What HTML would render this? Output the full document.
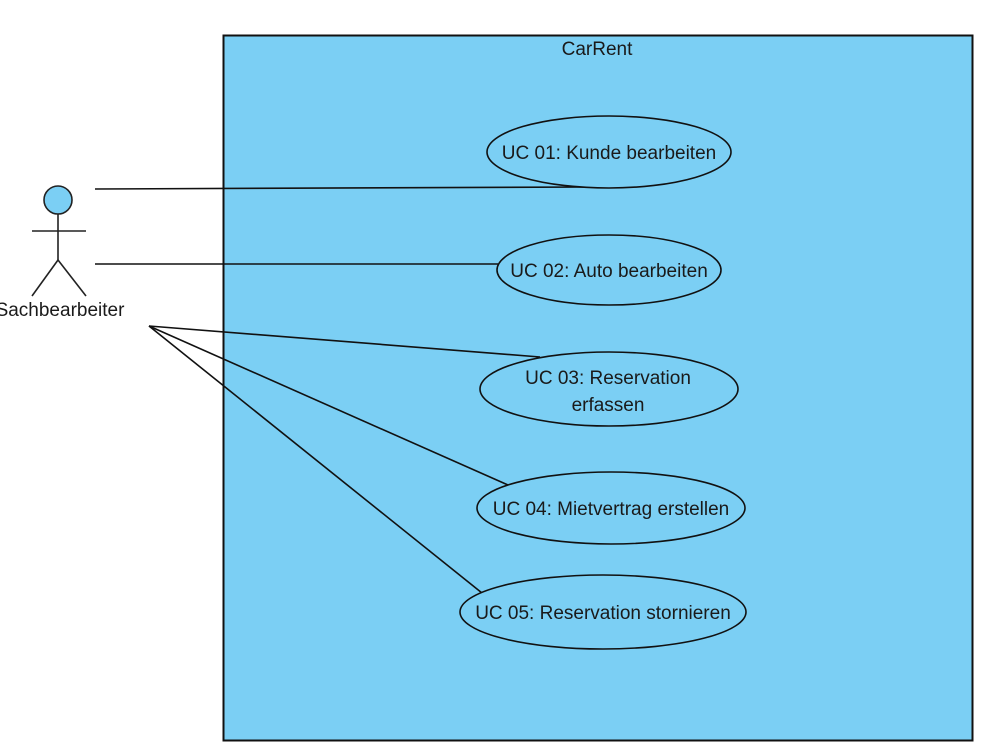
<!DOCTYPE html>
<html><head><meta charset="utf-8"><style>
html,body{margin:0;padding:0;background:#fff;}
svg{display:block;}
text{font-family:"Liberation Sans",sans-serif;font-size:19px;fill:#1a1a1a;}
</style></head><body>
<svg width="1000" height="749" viewBox="0 0 1000 749" xmlns="http://www.w3.org/2000/svg">
<rect x="223.5" y="35.5" width="749" height="705" fill="#7bcff4" stroke="#111" stroke-width="2"/>
<text x="597" y="55" text-anchor="middle">CarRent</text>
<g stroke="#111" stroke-width="1.6" fill="none">
<line x1="95" y1="189" x2="590" y2="187"/>
<line x1="95" y1="264" x2="498" y2="264"/>
<line x1="149" y1="326" x2="540" y2="357"/>
<line x1="149" y1="326" x2="508" y2="485"/>
<line x1="149" y1="326" x2="482" y2="593"/>
</g>
<g stroke="#111" stroke-width="1.6" fill="#7bcff4">
<ellipse cx="609" cy="152" rx="122" ry="36"/>
<ellipse cx="609" cy="270" rx="112" ry="35"/>
<ellipse cx="609" cy="389" rx="129" ry="37"/>
<ellipse cx="611" cy="508" rx="134" ry="36"/>
<ellipse cx="603" cy="612" rx="143" ry="37"/>
</g>
<text x="609" y="159" text-anchor="middle">UC 01: Kunde bearbeiten</text>
<text x="609" y="277" text-anchor="middle">UC 02: Auto bearbeiten</text>
<text x="608" y="384" text-anchor="middle">UC 03: Reservation</text>
<text x="608" y="411" text-anchor="middle">erfassen</text>
<text x="611" y="515" text-anchor="middle">UC 04: Mietvertrag erstellen</text>
<text x="603" y="619" text-anchor="middle">UC 05: Reservation stornieren</text>
<g stroke="#222" stroke-width="1.6" fill="none">
<circle cx="58" cy="200" r="14" fill="#7bcff4"/>
<line x1="58" y1="214" x2="58" y2="260"/>
<line x1="32" y1="231" x2="86" y2="231"/>
<line x1="58" y1="260" x2="32" y2="296"/>
<line x1="58" y1="260" x2="86" y2="296"/>
</g>
<text x="60" y="316" text-anchor="middle">Sachbearbeiter</text>
</svg>
</body></html>
